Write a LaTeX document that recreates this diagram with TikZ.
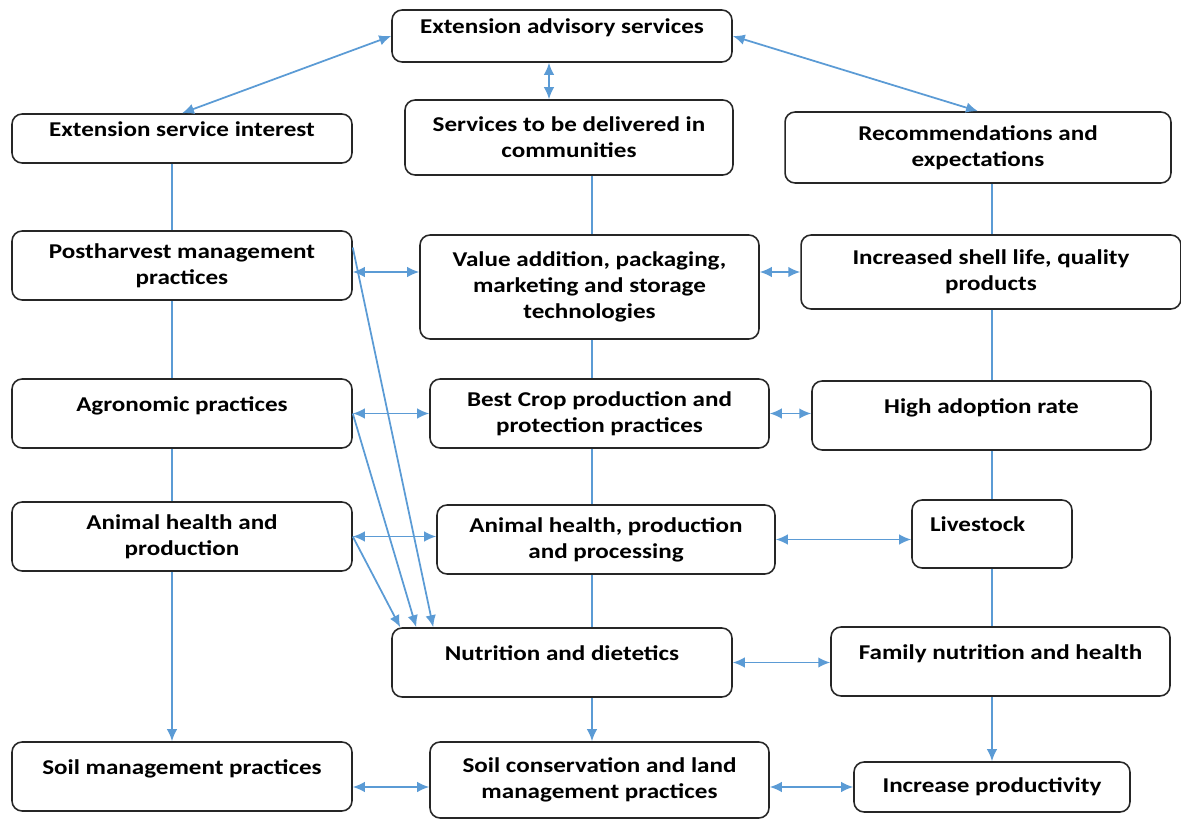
\documentclass[tikz,border=0pt]{standalone}
\usepackage{fontspec}
\setmainfont{Carlito}[FakeStretch=1.19]
\usepackage{xcolor}
\definecolor{linkblue}{HTML}{5B9BD5}
\definecolor{boxline}{HTML}{262626}
\usetikzlibrary{arrows.meta}

\begin{document}
\begin{tikzpicture}[x=0.02cm, y=-0.02cm,
  box/.style={draw=boxline, line width=0.9pt, rounded corners=0.2cm, align=center,
    font=\fontsize{12}{14.7}\selectfont\bfseries, inner sep=2pt},
  raised/.style={text depth=0.38cm},
  link/.style={draw=linkblue, line width=1pt},
  both/.style={link, {Latex[length=2.4mm,width=2.1mm]}-{Latex[length=2.4mm,width=2.1mm]}},
  one/.style={link, -{Latex[length=2.4mm,width=2.1mm]}}]
\useasboundingbox (0,0) rectangle (1181,821);
% column lines
\coordinate (lcol) at (172,0);
\coordinate (tcol) at (549,0);
\coordinate (mcol) at (592,0);
\coordinate (rcol) at (992,0);

% top row
\node[box, raised, minimum width=6.8cm, minimum height=1.04cm] (adv) at (562,36) {Extension advisory services};
\node[box, raised, minimum width=6.8cm, minimum height=0.98cm] (esi) at (182,138.5) {Extension service interest};
\node[box, minimum width=6.56cm, minimum height=1.5cm] (sdc) at (569,137.5) {Services to be delivered in\\communities};
\node[box, minimum width=7.72cm, minimum height=1.42cm] (rec) at (978,147.5) {Recommendations and\\expectations};

% practices and results
\node[box, minimum width=6.8cm, minimum height=1.38cm] (post) at (182,265.5) {Postharvest management\\practices};
\node[box, minimum width=6.78cm, minimum height=2.08cm] (val) at (589.5,287) {Value addition, packaging,\\marketing and storage\\technologies};
\node[box, minimum width=7.6cm, minimum height=1.48cm] (shell) at (991,272) {Increased shell life, quality\\products};
\node[box, raised, minimum width=6.8cm, minimum height=1.38cm] (agro) at (182,413.5) {Agronomic practices};
\node[box, minimum width=6.78cm, minimum height=1.38cm] (best) at (599.5,413.5) {Best Crop production and\\protection practices};
\node[box, raised, minimum width=6.78cm, minimum height=1.38cm] (adopt) at (981.5,415.5) {High adoption rate};
\node[box, minimum width=6.8cm, minimum height=1.38cm] (anim) at (182,536.5) {Animal health and\\production};
\node[box, minimum width=6.76cm, minimum height=1.38cm] (ahp) at (606,539.5) {Animal health, production\\and processing};
\node[box, raised, align=left, text width=2.48cm, inner xsep=0.36cm, minimum height=1.36cm] (live) at (992,534) {Livestock};
\node[box, raised, minimum width=6.8cm, minimum height=1.38cm] (nutr) at (562,662.5) {Nutrition and dietetics};
\node[box, raised, minimum width=6.78cm, minimum height=1.38cm] (fam) at (1000.5,661.5) {Family nutrition and health};
\node[box, raised, minimum width=6.8cm, minimum height=1.38cm] (soil) at (182,776.5) {Soil management practices};
\node[box, minimum width=6.78cm, minimum height=1.52cm] (slm) at (599.5,780) {Soil conservation and land\\management practices};
\node[box, minimum width=5.52cm, minimum height=1.0cm] (incr) at (992,787) {Increase productivity};

% links from the top box
\draw[both] (esi.north) -- (adv.west);
\draw[both] (adv.south -| tcol) -- (sdc.north -| tcol);
\draw[both] (adv.east) -- (rec.north);

% vertical links
\draw[link] (esi.south -| lcol) -- (post.north -| lcol);
\draw[link] (post.south -| lcol) -- (agro.north -| lcol);
\draw[link] (agro.south -| lcol) -- (anim.north -| lcol);
\draw[one] (anim.south -| lcol) -- (soil.north -| lcol);
\draw[link] (sdc.south -| mcol) -- (val.north -| mcol);
\draw[link] (val.south -| mcol) -- (best.north -| mcol);
\draw[link] (best.south -| mcol) -- (ahp.north -| mcol);
\draw[link] (ahp.south -| mcol) -- (nutr.north -| mcol);
\draw[one] (nutr.south -| mcol) -- (slm.north -| mcol);
\draw[link] (rec.south -| rcol) -- (shell.north -| rcol);
\draw[link] (shell.south -| rcol) -- (adopt.north -| rcol);
\draw[link] (adopt.south -| rcol) -- (live.north -| rcol);
\draw[link] (live.south -| rcol) -- (fam.north -| rcol);
\draw[one] (fam.south -| rcol) -- (incr.north -| rcol);

% horizontal links
\draw[both] (post.east |- shell.west) -- (val.west |- shell.west);
\draw[both] (val.east |- shell.west) -- (shell.west);
\draw[both] (agro.east) -- (best.west);
\draw[both] (best.east) -- (best.east -| adopt.west);
\draw[both] (anim.east) -- (anim.east -| ahp.west);
\draw[both] (ahp.east) -- (ahp.east -| live.west);
\draw[both] (nutr.east) -- (nutr.east -| fam.west);
\draw[both] (soil.east |- incr.west) -- (slm.west |- incr.west);
\draw[both] (slm.east |- incr.west) -- (incr.west);

% diagonals into nutrition
\draw[one] ([yshift=0.36cm]post.east) -- ([xshift=0.84cm]nutr.north west);
\draw[one] (agro.east) -- ([xshift=0.5cm]nutr.north west);
\draw[one] (anim.east) -- ([xshift=0.18cm]nutr.north west);
\end{tikzpicture}
\end{document}
